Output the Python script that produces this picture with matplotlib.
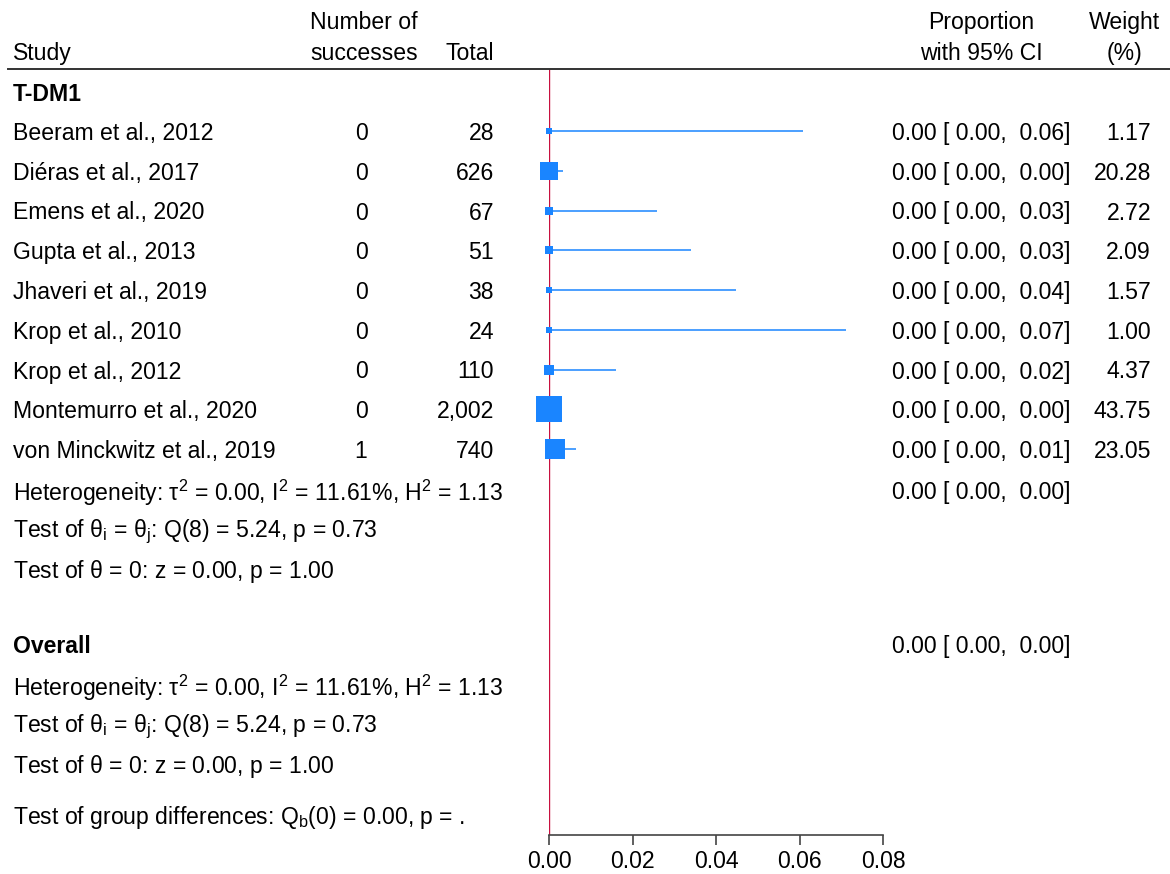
import matplotlib
matplotlib.use("Agg")
import matplotlib.pyplot as plt
from matplotlib.lines import Line2D
import matplotlib.transforms as mtransforms

# Datos del forest plot (T-DM1)
studies = ["Beeram et al., 2012", "Diéras et al., 2017", "Emens et al., 2020",
           "Gupta et al., 2013", "Jhaveri et al., 2019", "Krop et al., 2010",
           "Krop et al., 2012", "Montemurro et al., 2020", "von Minckwitz et al., 2019"]
successes = [0, 0, 0, 0, 0, 0, 0, 0, 1]
totals = [28, 626, 67, 51, 38, 24, 110, 2002, 740]
ci_lower = [0, 0, 0, 0, 0, 0, 0, 0, 0]
ci_upper = [0.0609, 0.0033, 0.0259, 0.0339, 0.0449, 0.0711, 0.0160, 0.0010, 0.0064]
weights = [1.17, 20.28, 2.72, 2.09, 1.57, 1.00, 4.37, 43.75, 23.05]
ticks = [0.00, 0.02, 0.04, 0.06, 0.08]

het_text = r"Heterogeneity: $\tau^2$ = 0.00, $I^2$ = 11.61%, $H^2$ = 1.13"
q_text = r"Test of $\theta_i$ = $\theta_j$: Q(8) = 5.24, p = 0.73"
z_text = r"Test of $\theta$ = 0: z = 0.00, p = 1.00"
grp_text = r"Test of group differences: $Q_b$(0) = 0.00, p = ."
pooled_text = "0.00 [ 0.00,  0.00]"

plt.rcParams['font.family'] = ['Liberation Sans', 'DejaVu Sans']
plt.rcParams['mathtext.fontset'] = 'custom'
plt.rcParams['mathtext.rm'] = 'Liberation Sans'
plt.rcParams['mathtext.it'] = 'Liberation Sans'
plt.rcParams['mathtext.default'] = 'regular'

W, H = 1170, 874
fs = 16.6
blue = "#1a85ff"
red = "#c8103f"
gris = "#444444"

fig = plt.figure(figsize=(W / 100, H / 100), dpi=100)
# zona del grafico: x de 549 a 883 px, y de 69 a 835 px
ax = fig.add_axes([549 / W, 1 - 835 / H, (883 - 549) / W, (835 - 69) / H])
ax.set_xlim(0, 0.08)
ax.set_ylim(835, 69)   # y en pixeles de la figura (de arriba a abajo)
for s in ["top", "right", "left"]:
    ax.spines[s].set_visible(False)
ax.spines["bottom"].set_color(gris)
ax.spines["bottom"].set_linewidth(1.2)
ax.set_yticks([])
ax.set_xticks(ticks)
ax.set_xticklabels([f"{t:.2f}" for t in ticks], fontsize=fs)
ax.tick_params(axis="x", length=7, width=1.2, color=gris, pad=4)

# linea de no efecto
ax.axvline(0, color=red, lw=1.0, zorder=1)

tr = mtransforms.blended_transform_factory(fig.transFigure, ax.transData)

def txt(px, y, s, ha="left", **kw):
    # pequeño ajuste vertical para que el texto quede centrado en la fila
    ax.text(px / W, y + 2.5, s, transform=tr, ha=ha, va="center", fontsize=fs,
            clip_on=False, **kw)

# encabezados
txt(364, 20, "Number of", ha="center")
txt(13, 51, "Study")
txt(364, 51, "successes", ha="center")
txt(494, 51, "Total", ha="right")
txt(981, 20, "Proportion", ha="center")
txt(981, 51, "with 95% CI", ha="center")
txt(1124, 20, "Weight", ha="center")
txt(1125, 51, "(%)", ha="center")
fig.add_artist(Line2D([8 / W, 1.0], [1 - 69 / H] * 2, color="#333333", lw=1.4))

txt(13, 92, "T-DM1", fontweight="bold")

row0, step = 131, 39.75
for i, name in enumerate(studies):
    y = row0 + i * step
    p = successes[i] / totals[i]
    txt(13, y, name)
    txt(361, y, str(successes[i]), ha="center")
    txt(494, y, f"{totals[i]:,}", ha="right")
    txt(1070, y, f"{p:.2f} [ {ci_lower[i]:.2f},  {ci_upper[i]:.2f}]", ha="right")
    txt(1151, y, f"{weights[i]:.2f}", ha="right")
    ax.hlines(y, ci_lower[i], ci_upper[i], color=blue, lw=1.1, zorder=2,
              clip_on=False)
    side = 2.1 + 3.62 * weights[i] ** 0.5
    ax.plot([p], [y], marker="s", ms=side * 0.72, color=blue, mew=0, zorder=3,
            clip_on=False)

# resumen del subgrupo
txt(13, 490, het_text)
txt(1070, 490, pooled_text, ha="right")
txt(13, 529, q_text)
txt(13, 569, z_text)

# global
txt(13, 644, "Overall", fontweight="bold")
txt(1070, 644, pooled_text, ha="right")
txt(13, 685, het_text)
txt(13, 724, q_text)
txt(13, 764, z_text)
txt(13, 815, grp_text)

fig.savefig("out.png", dpi=100)
